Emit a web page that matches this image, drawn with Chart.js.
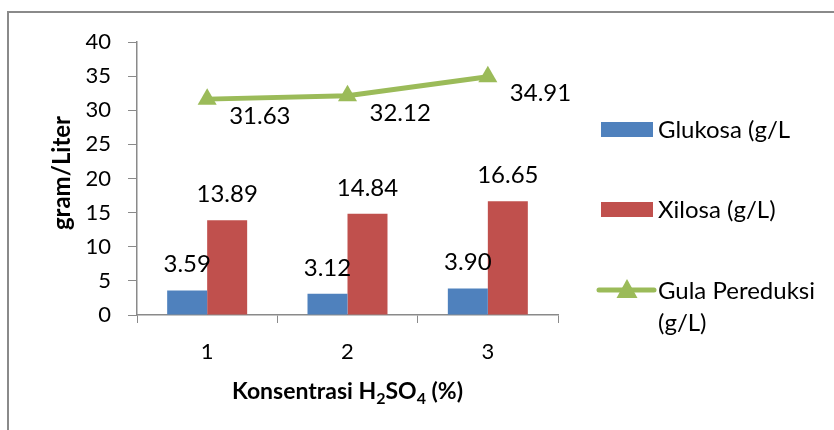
<!DOCTYPE html>
<html>
<head>
<meta charset="utf-8">
<script src="https://cdn.jsdelivr.net/npm/chart.js@4.4.1/dist/chart.umd.min.js"></script>
<style>
  html, body { margin: 0; padding: 0; background: #fff; }
  canvas { display: block; }
</style>
</head>
<body>
<canvas id="chart" width="834" height="430"></canvas>
<script>
  const categories = ['1', '2', '3'];
  const glukosa = [3.59, 3.12, 3.90];
  const xilosa = [13.89, 14.84, 16.65];
  const gulaPereduksi = [31.63, 32.12, 34.91];
  const legendLines = [['Glukosa (g/L'], ['Xilosa (g/L)'], ['Gula Pereduksi', '(g/L)']];

  const FONT = 'Lato, "Open Sans", sans-serif';

  // frame, titles, value labels and legend
  const extras = {
    id: 'extras',
    beforeDraw(chart) {
      const ctx = chart.ctx;
      ctx.save();
      ctx.strokeStyle = '#8a8a8a';
      ctx.lineWidth = 2;
      ctx.beginPath();
      ctx.moveTo(8, 440);
      ctx.lineTo(8, 12);
      ctx.lineTo(840, 12);
      ctx.stroke();
      ctx.restore();
    },
    afterDatasetsDraw(chart) {
      const ctx = chart.ctx;
      ctx.save();
      ctx.fillStyle = '#000';

      // bar value labels
      ctx.font = '24px ' + FONT;
      ctx.textAlign = 'center';
      ctx.textBaseline = 'alphabetic';
      [0, 1].forEach(i => {
        const meta = chart.getDatasetMeta(i);
        meta.data.forEach((bar, j) => {
          ctx.fillText(chart.data.datasets[i].data[j].toFixed(2), bar.x, bar.y - 18);
        });
      });

      // line value labels
      ctx.textAlign = 'left';
      ctx.textBaseline = 'middle';
      const lm = chart.getDatasetMeta(2);
      lm.data.forEach((pt, j) => {
        ctx.fillText(chart.data.datasets[2].data[j].toFixed(2), pt.x + 22, pt.y + 17);
      });

      // axis titles
      ctx.font = 'bold 24px ' + FONT;
      ctx.textAlign = 'center';
      ctx.save();
      ctx.translate(62, 173);
      ctx.rotate(-Math.PI / 2);
      ctx.fillText('gram/Liter', 0, 0);
      ctx.restore();

      const parts = [['Konsentrasi H', false], ['2', true], ['SO', false], ['4', true], [' (%)', false]];
      const big = 'bold 23px ' + FONT, small = 'bold 16px ' + FONT;
      let total = 0;
      parts.forEach(p => { ctx.font = p[1] ? small : big; total += ctx.measureText(p[0]).width; });
      let x = (chart.chartArea.left + chart.chartArea.right) / 2 - total / 2;
      ctx.textAlign = 'left';
      ctx.textBaseline = 'alphabetic';
      parts.forEach(p => {
        ctx.font = p[1] ? small : big;
        ctx.fillText(p[0], x, p[1] ? 404 : 399);
        x += ctx.measureText(p[0]).width;
      });

      // legend
      const ds = chart.data.datasets;
      ctx.font = '24px ' + FONT;
      ctx.textBaseline = 'middle';
      ctx.fillStyle = ds[0].backgroundColor;
      ctx.fillRect(601, 122, 52, 15);
      ctx.fillStyle = ds[1].backgroundColor;
      ctx.fillRect(601, 202, 52, 15);
      ctx.strokeStyle = ds[2].borderColor;
      ctx.lineWidth = 5;
      ctx.lineCap = 'round';
      ctx.beginPath();
      ctx.moveTo(599, 290);
      ctx.lineTo(654, 290);
      ctx.stroke();
      ctx.fillStyle = ds[2].borderColor;
      ctx.beginPath();
      ctx.moveTo(627, 279);
      ctx.lineTo(637.5, 298);
      ctx.lineTo(616.5, 298);
      ctx.closePath();
      ctx.fill();

      ctx.fillStyle = '#000';
      ctx.fillText(legendLines[0][0], 658, 130);
      ctx.fillText(legendLines[1][0], 658, 210);
      ctx.fillText(legendLines[2][0], 658, 291);
      ctx.fillText(legendLines[2][1], 658, 323);
      ctx.restore();
    }
  };

  new Chart(document.getElementById('chart').getContext('2d'), {
    type: 'bar',
    data: {
      labels: categories,
      datasets: [
        {
          label: 'Glukosa (g/L',
          data: glukosa,
          backgroundColor: '#4F81BD',
          categoryPercentage: 0.57,
          barPercentage: 1.0
        },
        {
          label: 'Xilosa (g/L)',
          data: xilosa,
          backgroundColor: '#C0504D',
          categoryPercentage: 0.57,
          barPercentage: 1.0
        },
        {
          type: 'line',
          label: 'Gula Pereduksi (g/L)',
          data: gulaPereduksi,
          borderColor: '#9BBB59',
          backgroundColor: '#9BBB59',
          borderWidth: 5,
          pointStyle: 'triangle',
          pointRadius: 11,
          pointBorderWidth: 0,
          pointBackgroundColor: '#9BBB59',
          fill: false,
          tension: 0
        }
      ]
    },
    options: {
      responsive: false,
      animation: false,
      devicePixelRatio: 1,
      layout: { padding: { left: 0, top: 42, right: 276, bottom: 0 } },
      plugins: {
        legend: { display: false },
        tooltip: { enabled: false }
      },
      scales: {
        x: {
          afterFit(scale) { scale.height = 115; },
          grid: { drawOnChartArea: false, drawTicks: true, tickLength: 8, color: '#8a8a8a', offset: true },
          border: { display: true, color: '#8a8a8a', width: 1.5 },
          ticks: { color: '#000', font: { family: FONT, size: 22 }, padding: 16 }
        },
        y: {
          min: 0,
          max: 40,
          afterFit(scale) { scale.width = 137; },
          grid: { drawOnChartArea: false, drawTicks: true, tickLength: 9, color: '#8a8a8a' },
          border: { display: true, color: '#8a8a8a', width: 1.5 },
          ticks: { stepSize: 5, color: '#000', font: { family: FONT, size: 22 }, padding: 17 }
        }
      }
    },
    plugins: [extras]
  });
</script>
</body>
</html>
